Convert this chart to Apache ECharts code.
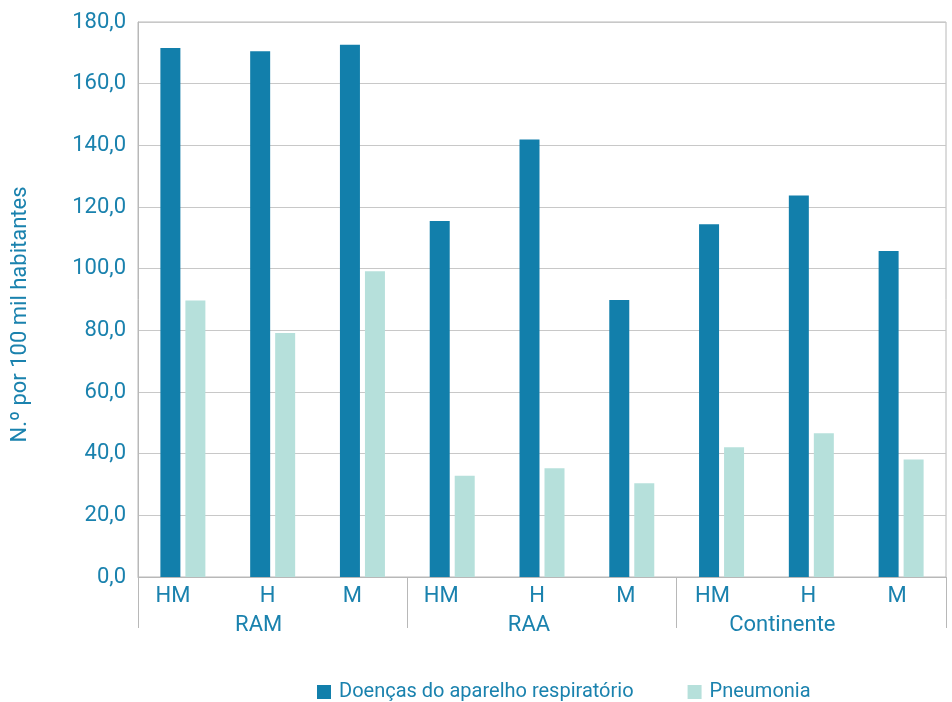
<!DOCTYPE html>
<html><head><meta charset="utf-8">
<script src="https://cdn.jsdelivr.net/npm/echarts@6/dist/echarts.min.js"></script>
<style>html,body{margin:0;padding:0;background:#fff}#c{width:952px;height:702px}</style>
</head><body><div id="c"></div>
<script>
const subCategories = ['HM','H','M','HM','H','M','HM','H','M'];
const groups = ['RAM','RAA','Continente'];
const respiratorio = [171.6, 170.5, 172.6, 115.5, 141.9, 89.8, 114.4, 123.7, 105.7];
const pneumonia = [89.7, 79.1, 99.2, 32.8, 35.3, 30.4, 42.1, 46.6, 38.1];
const seriesNames = ['Doenças do aparelho respiratório','Pneumonia'];

const txt = '#1a82ae';
const font = 'Roboto';
// label horizontal nudges (style only)
const subShift = [10,5,10,11,5,6,9,3,4];
const groupShift = [14,13,29];
const subRich = {}, groupRich = {};
subShift.forEach((s,i)=>{subRich['s'+i]={color:txt,fontSize:22,fontFamily:font,padding:[0,2*s,0,0]};});
groupShift.forEach((s,i)=>{groupRich['g'+i]={color:txt,fontSize:22,fontFamily:font,padding:[0,2*s,0,0]};});

const chart = echarts.init(document.getElementById('c'));
chart.setOption({
  animation:false,
  textStyle:{fontFamily:font},
  grid:{left:138,right:6,top:22,bottom:125,containLabel:false,outerBoundsMode:'none',
    show:true,borderColor:'#b8b8b8',borderWidth:1},
  legend:{top:677,left:312,itemWidth:14,itemHeight:14,itemGap:54,icon:'rect',
    textStyle:{color:txt,fontSize:20,fontFamily:font,padding:[0,0,0,3]},data:seriesNames},
  xAxis:[
    {type:'category',data:subCategories,position:'bottom',
     axisLine:{show:true,lineStyle:{color:'#b8b8b8'}},axisTick:{show:false},
     axisLabel:{interval:0,hideOverlap:false,color:txt,fontSize:22,margin:8,fontFamily:font,
       formatter:(v,i)=>'{s'+i+'|'+v+'}',rich:subRich}},
    {type:'category',data:groups,position:'bottom',
     axisLine:{show:false},
     axisTick:{show:true,interval:0,length:51,lineStyle:{color:'#b8b8b8'}},
     axisLabel:{interval:0,hideOverlap:false,color:txt,fontSize:22,margin:37,fontFamily:font,
       formatter:(v,i)=>'{g'+i+'|'+v+'}',rich:groupRich}}
  ],
  yAxis:{type:'value',min:0,max:180,interval:20,
    name:'N.º por 100 mil habitantes',nameLocation:'middle',nameGap:107,
    nameTextStyle:{color:txt,fontSize:22,fontFamily:font,padding:[0,30,0,0]},
    axisLine:{show:true,lineStyle:{color:'#b8b8b8'}},axisTick:{show:false},
    splitLine:{lineStyle:{color:'#c8c8c8'}},
    axisLabel:{color:txt,fontSize:22,margin:12,fontFamily:font,
      formatter:v=>v.toFixed(1).replace('.',',')}},
  series:[
    {name:seriesNames[0],type:'bar',xAxisIndex:0,data:respiratorio,barWidth:20,barGap:'25%',
     itemStyle:{color:'#127fab'}},
    {name:seriesNames[1],type:'bar',xAxisIndex:0,data:pneumonia,barWidth:20,barGap:'25%',
     itemStyle:{color:'#b6e0db'}}
  ]
});
</script></body></html>
